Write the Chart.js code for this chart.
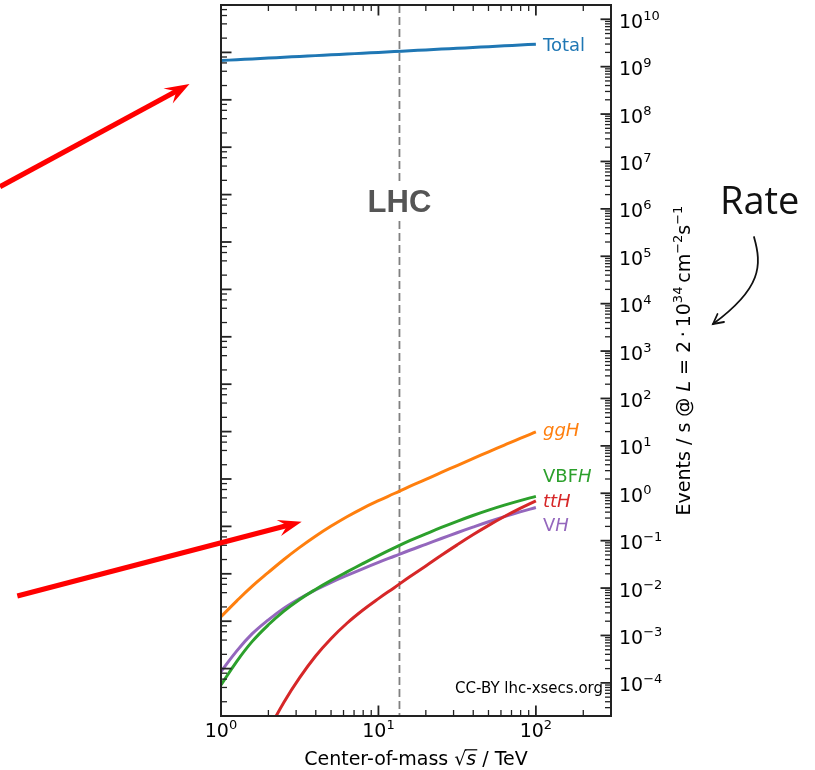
<!DOCTYPE html>
<html><head><meta charset="utf-8">
<style>html,body{margin:0;padding:0;background:#fff;}canvas{display:block;}</style>
<script src="https://cdn.jsdelivr.net/npm/chart.js@4.4.0/dist/chart.umd.min.js"></script>
</head><body>
<canvas id="c" width="815" height="770"></canvas>
<script>
// ---- data (events / s at L = 2e34 cm^-2 s^-1) ----
const sqrtS    = [1, 1.26, 1.58, 2, 2.51, 3.16, 3.98, 5.01, 6.31, 7.94, 10, 12.6, 15.8, 20, 25.1, 31.6, 39.8, 50.1, 63.1, 79.4, 100];
const rateTotal= [1.35e9, 1.40e9, 1.46e9, 1.52e9, 1.58e9, 1.64e9, 1.71e9, 1.78e9, 1.85e9, 1.92e9, 2.00e9, 2.08e9, 2.17e9, 2.25e9, 2.35e9, 2.44e9, 2.54e9, 2.64e9, 2.75e9, 2.86e9, 2.98e9];
const rateGGH  = [2.49e-3, 5.38e-3, 0.0110, 0.0214, 0.0401, 0.0721, 0.124, 0.203, 0.320, 0.482, 0.697, 0.989, 1.40, 1.96, 2.75, 3.85, 5.38, 7.50, 10.4, 14.4, 19.7];
const rateVBFH = [9.02e-5, 2.85e-4, 7.50e-4, 1.68e-3, 3.27e-3, 5.75e-3, 9.33e-3, 0.0145, 0.0219, 0.0327, 0.0484, 0.0703, 0.100, 0.139, 0.190, 0.256, 0.340, 0.442, 0.562, 0.701, 0.859];
const rateTTH  = [null, null, 1.96e-6, 9.82e-6, 3.91e-5, 1.29e-4, 3.65e-4, 8.65e-4, 1.81e-3, 3.40e-3, 5.98e-3, 0.0102, 0.0173, 0.0293, 0.0491, 0.0815, 0.133, 0.210, 0.323, 0.480, 0.693];
const rateVH   = [1.72e-4, 4.74e-4, 1.09e-3, 2.14e-3, 3.77e-3, 6.04e-3, 9.10e-3, 0.0132, 0.0185, 0.0255, 0.0348, 0.0469, 0.0628, 0.0838, 0.111, 0.147, 0.193, 0.251, 0.321, 0.405, 0.500];
const xTickExps = [0, 1, 2];
const yTickExps = [-4, -3, -2, -1, 0, 1, 2, 3, 4, 5, 6, 7, 8, 9, 10];
const lhcSqrtS = 13.6;
const lumiPbPerS = 0.02; // 2e34 cm^-2 s^-1 in pb^-1 s^-1 (left axis = cross section)

const COLORS = {total:'#1f77b4', ggh:'#ff7f0e', vbf:'#2ca02c', tth:'#d62728', vh:'#9467bd'};
const FONT = '"DejaVu Sans", sans-serif';

function pts(arr){ return sqrtS.map((x,i)=>({x:x, y:arr[i]})); }
function ds(label, arr, color){
  return {label, data:pts(arr), borderColor:color, backgroundColor:color, borderWidth:3,
          pointRadius:0, tension:0.4, xAxisID:'x', yAxisID:'y', fill:false};
}

function segFont(s, size){ return (s.it?'italic ':'') + (s.sup? Math.round(size*0.7) : size) + 'px ' + FONT; }
function drawSegs(ctx, segs, x, y, align, size, color){
  ctx.save(); ctx.fillStyle=color; ctx.textBaseline='alphabetic'; ctx.textAlign='left';
  const ws=[]; let w=0;
  for(const s of segs){ ctx.font=segFont(s,size); const m=ctx.measureText(s.t).width; ws.push(m); w+=m; }
  let cx = align==='center'? x-w/2 : (align==='right'? x-w : x);
  const pos=[];
  segs.forEach((s,i)=>{ ctx.font=segFont(s,size); ctx.fillText(s.t, cx, y-(s.sup? size*0.42:0)); pos.push([cx,cx+ws[i]]); cx+=ws[i]; });
  ctx.restore(); return pos;
}
function supStr(k){ return (k<0?'\u2212':'') + Math.abs(k); }

function redArrow(ctx, x0,y0, tip, b1, b2){
  const dx=tip[0]-x0, dy=tip[1]-y0, L=Math.hypot(dx,dy), ux=dx/L, uy=dy/L;
  const notch=[tip[0]-15*ux, tip[1]-15*uy];
  ctx.save(); ctx.strokeStyle='#ff0000'; ctx.fillStyle='#ff0000'; ctx.lineWidth=5; ctx.lineCap='butt';
  ctx.beginPath(); ctx.moveTo(x0,y0); ctx.lineTo(notch[0]+2*ux, notch[1]+2*uy); ctx.stroke();
  ctx.beginPath(); ctx.moveTo(tip[0],tip[1]); ctx.lineTo(b1[0],b1[1]); ctx.lineTo(notch[0],notch[1]); ctx.lineTo(b2[0],b2[1]); ctx.closePath(); ctx.fill();
  ctx.restore();
}

const deco = {
  id:'deco',
  beforeDatasetsDraw(chart){
    const ctx=chart.ctx, ca=chart.chartArea, xs=chart.scales.x;
    const px=xs.getPixelForValue(lhcSqrtS);
    ctx.save(); ctx.strokeStyle='#808080'; ctx.lineWidth=1.8; ctx.setLineDash([8,4]);
    ctx.beginPath(); ctx.moveTo(px, ca.top); ctx.lineTo(px, ca.bottom); ctx.stroke();
    ctx.setLineDash([]);
    ctx.fillStyle='#ffffff'; ctx.fillRect(px-36, 181, 72, 38);
    ctx.fillStyle='#555555'; ctx.font='bold 31px "Liberation Sans", Arial, sans-serif';
    ctx.textAlign='center'; ctx.textBaseline='alphabetic'; ctx.fillText('LHC', px, 211.5);
    ctx.restore();
  },
  afterDatasetsDraw(chart){
    const ctx=chart.ctx, ca=chart.chartArea;
    const xs=chart.scales.x, yr=chart.scales.y, yl=chart.scales.yL;
    ctx.save();
    ctx.strokeStyle='#222'; ctx.lineWidth=2;
    ctx.strokeRect(ca.left, ca.top, ca.right-ca.left, ca.bottom-ca.top);
    const tick=(x1,y1,x2,y2,maj)=>{ ctx.lineWidth=maj?1.8:1.3; ctx.beginPath(); ctx.moveTo(x1,y1); ctx.lineTo(x2,y2); ctx.stroke(); };
    const MAJ=10.5, MIN=6;
    for(let k=0;k<=2;k++) for(let m=1;m<=9;m++){
      const v=m*Math.pow(10,k); if(v<xs.min||v>xs.max) continue;
      const p=xs.getPixelForValue(v), len=m===1?MAJ:MIN;
      tick(p,ca.bottom,p,ca.bottom-len,m===1); tick(p,ca.top,p,ca.top+len,m===1);
    }
    for(let k=-5;k<=10;k++) for(let m=1;m<=9;m++){
      const v=m*Math.pow(10,k); if(v<yr.min*0.999||v>yr.max*1.001) continue;
      const p=yr.getPixelForValue(v), len=m===1?MAJ:MIN;
      tick(ca.right,p,ca.right-len,p,m===1);
    }
    for(let k=-3;k<=12;k++) for(const m of [1,2,4,6,8]){
      const v=m*Math.pow(10,k); if(v<yl.min*0.999||v>yl.max*1.001) continue;
      const p=yl.getPixelForValue(v), len=m===1?MAJ:MIN;
      tick(ca.left,p,ca.left+len,p,m===1);
    }
    ctx.restore();
    for(const k of xTickExps){
      const p=xs.getPixelForValue(Math.pow(10,k));
      drawSegs(ctx,[{t:'10'},{t:supStr(k),sup:true}], p, 737, 'center', 19, '#000');
    }
    for(const k of yTickExps){
      const p=yr.getPixelForValue(Math.pow(10,k));
      drawSegs(ctx,[{t:'10'},{t:supStr(k),sup:true}], ca.right+8, p+8.5, 'left', 19, '#000');
    }
    const tp=drawSegs(ctx,[{t:'Center-of-mass '},{t:'\u221A'},{t:'s',it:true},{t:' / TeV'}], (ca.left+ca.right)/2, 765, 'center', 19, '#000');
    ctx.save(); ctx.strokeStyle='#000'; ctx.lineWidth=1.2; ctx.beginPath();
    ctx.moveTo(tp[1][1]-1.5, 765-15.2); ctx.lineTo(tp[2][1]+1, 765-15.2); ctx.stroke(); ctx.restore();
    ctx.save(); ctx.translate(689.5,(ca.top+ca.bottom)/2); ctx.rotate(-Math.PI/2);
    drawSegs(ctx,[{t:'Events / s @ '},{t:'L',it:true},{t:' = 2\u2009\u00B7\u200910'},{t:'34',sup:true},{t:'\u2009cm'},{t:'\u22122',sup:true},{t:'s'},{t:'\u22121',sup:true}], 0, 0, 'center', 19, '#000');
    ctx.restore();
    const lx=543;
    drawSegs(ctx,[{t:'Total'}], lx, 50.7, 'left', 18, COLORS.total);
    drawSegs(ctx,[{t:'ggH',it:true}], lx, 436, 'left', 18, COLORS.ggh);
    drawSegs(ctx,[{t:'VBF'},{t:'H',it:true}], lx, 481.5, 'left', 18, COLORS.vbf);
    drawSegs(ctx,[{t:'ttH',it:true}], lx, 506.5, 'left', 18, COLORS.tth);
    drawSegs(ctx,[{t:'V'},{t:'H',it:true}], lx, 530.5, 'left', 18, COLORS.vh);
    drawSegs(ctx,[{t:'CC-BY lhc-xsecs.org'}], ca.right-8, 693, 'right', 15, '#000');
    redArrow(ctx, 0,186.7, [189.5,84], [163.5,88.5], [172.7,103.5]);
    redArrow(ctx, 17.3,596, [301.7,521.7], [276.7,520], [281,536]);
    ctx.save(); ctx.fillStyle='#111'; ctx.font='38px "Open Sans", Lato, sans-serif'; ctx.textBaseline='alphabetic';
    ctx.fillText('Rate', 720, 214);
    ctx.strokeStyle='#111'; ctx.lineWidth=1.8; ctx.lineCap='round';
    ctx.beginPath(); ctx.moveTo(754,237); ctx.bezierCurveTo(762,265,762,288,713,324); ctx.stroke();
    ctx.beginPath(); ctx.moveTo(717.5,314); ctx.lineTo(713,324); ctx.lineTo(724,322); ctx.stroke();
    ctx.restore();
  }
};

new Chart(document.getElementById('c'), {
  type:'line',
  data:{datasets:[
    ds('Total', rateTotal, COLORS.total),
    ds('ggH', rateGGH, COLORS.ggh),
    ds('VBFH', rateVBFH, COLORS.vbf),
    ds('ttH', rateTTH, COLORS.tth),
    ds('VH', rateVH, COLORS.vh)
  ]},
  options:{
    responsive:false, animation:false, devicePixelRatio:1,
    layout:{padding:{left:221, right:204, top:5, bottom:54}},
    plugins:{legend:{display:false}, tooltip:{enabled:false}},
    scales:{
      x:{type:'logarithmic', min:1, max:300, display:false},
      y:{type:'logarithmic', position:'right', min:2e-5, max:2e10, display:false},
      yL:{type:'logarithmic', position:'left', min:2e-5/lumiPbPerS, max:2e10/lumiPbPerS, display:false}
    }
  },
  plugins:[deco]
});
</script>
</body></html>
